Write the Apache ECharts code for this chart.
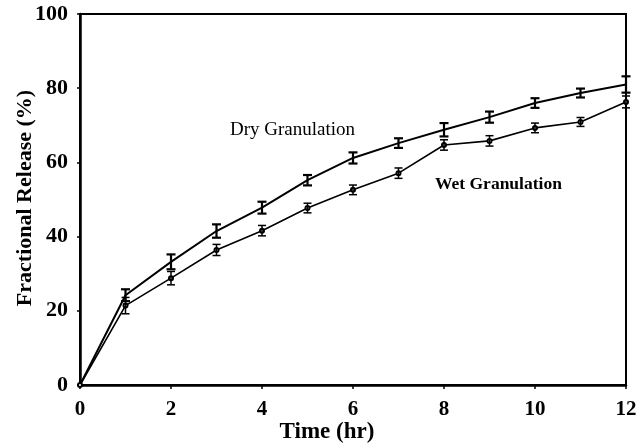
<!DOCTYPE html>
<html>
<head>
<meta charset="utf-8">
<script src="https://cdn.jsdelivr.net/npm/echarts@6/dist/echarts.min.js"></script>
<style>
  html, body { margin: 0; padding: 0; background: #fff; }
  #chart { width: 637px; height: 443px; }
</style>
</head>
<body>
<div id="chart"></div>
<script>
// Release profile: time points (hr)
const timeHr = [0, 1, 2, 3, 4, 5, 6, 7, 8, 9, 10, 11, 12];

// Mean fractional release (%) and error half-widths
const dryRelease = [0, 24.2, 33.2, 41.5, 47.8, 55.2, 61.2, 65.2, 68.8, 72.2, 76.0, 78.7, 81.0];
const dryError   = [0, 1.6, 2.0, 1.8, 1.6, 1.4, 1.5, 1.3, 1.8, 1.5, 1.3, 1.2, 2.2];
const wetRelease = [0, 21.4, 28.8, 36.4, 41.6, 47.7, 52.6, 57.1, 64.7, 65.8, 69.3, 70.9, 76.3];
const wetError   = [0, 2.2, 1.8, 1.5, 1.4, 1.3, 1.3, 1.4, 1.4, 1.4, 1.3, 1.2, 1.6];

const xTicks = [0, 2, 4, 6, 8, 10, 12];
const yTicks = [0, 20, 40, 60, 80, 100];

const seriesName = { dry: 'Dry Granulation', wet: 'Wet Granulation' };
const xTitle = 'Time (hr)';
const yTitle = 'Fractional Release (%)';

const serif = '"Liberation Serif", "Times New Roman", serif';

function pairs(ys) { return timeHr.map((t, i) => [t, ys[i]]); }
function errRows(ys, es) {
  return timeHr.map((t, i) => [t, ys[i] - es[i], ys[i] + es[i]]).filter((r, i) => es[i] > 0);
}

// I-beam error bar drawn in data coordinates
function errorBarRenderer(width, capHalf) {
  return function (params, api) {
    const x = api.value(0);
    const lo = api.coord([x, api.value(1)]);
    const hi = api.coord([x, api.value(2)]);
    const style = { stroke: '#000', lineWidth: width };
    return {
      type: 'group',
      children: [
        { type: 'line', shape: { x1: lo[0], y1: lo[1], x2: hi[0], y2: hi[1] }, style },
        { type: 'line', shape: { x1: lo[0] - capHalf, y1: lo[1], x2: lo[0] + capHalf, y2: lo[1] }, style },
        { type: 'line', shape: { x1: hi[0] - capHalf, y1: hi[1], x2: hi[0] + capHalf, y2: hi[1] }, style }
      ]
    };
  };
}

const chart = echarts.init(document.getElementById('chart'), null, { renderer: 'canvas' });

chart.setOption({
  animation: false,
  backgroundColor: '#fff',
  grid: {
    left: 80, right: 11, top: 14, bottom: 58,
    outerBoundsMode: 'none', containLabel: false,
    show: true, borderColor: '#000', borderWidth: 2, backgroundColor: 'transparent'
  },
  xAxis: {
    type: 'value', min: xTicks[0], max: xTicks[xTicks.length - 1], interval: 2,
    axisLine: { show: true, lineStyle: { color: '#000', width: 2.5 } },
    axisTick: { show: true, length: 4, lineStyle: { color: '#000', width: 1.5 } },
    axisLabel: { fontFamily: serif, fontWeight: 'bold', fontSize: 21, color: '#000', margin: 14 },
    splitLine: { show: false }
  },
  yAxis: {
    type: 'value', min: yTicks[0], max: yTicks[yTicks.length - 1], interval: 20,
    axisLine: { show: true, lineStyle: { color: '#000', width: 2.5 } },
    axisTick: { show: true, length: 3, lineStyle: { color: '#000', width: 1.5 } },
    axisLabel: {
      fontFamily: serif, fontWeight: 'bold', fontSize: 22, color: '#000', margin: 12,
      padding: [8, 0, 0, 0]
    },
    splitLine: { show: false }
  },
  series: [
    {
      name: seriesName.dry, type: 'line', data: pairs(dryRelease),
      symbol: 'none', lineStyle: { color: '#000', width: 2 }, z: 3
    },
    {
      name: seriesName.wet, type: 'line', data: pairs(wetRelease),
      symbol: 'emptyCircle', symbolSize: 4, itemStyle: { color: '#000', borderWidth: 1 },
      lineStyle: { color: '#000', width: 1.6 }, z: 3
    },
    {
      type: 'custom', data: errRows(dryRelease, dryError),
      renderItem: errorBarRenderer(2.2, 4.5), z: 4
    },
    {
      type: 'custom', data: errRows(wetRelease, wetError),
      renderItem: errorBarRenderer(1.5, 4), z: 4
    }
  ],
  graphic: [
    {
      type: 'text', left: 230, top: 121,
      style: { text: seriesName.dry, font: '19px ' + serif, fill: '#000' }
    },
    {
      type: 'text', left: 435, top: 175,
      style: { text: seriesName.wet, font: 'bold 17.5px ' + serif, fill: '#000' }
    },
    {
      type: 'text', x: 327, y: 432,
      style: {
        text: xTitle, font: 'bold 23px ' + serif, fill: '#000',
        align: 'center', verticalAlign: 'middle'
      }
    },
    {
      type: 'text', x: 25, y: 198, rotation: Math.PI / 2,
      style: {
        text: yTitle, font: 'bold 22px ' + serif, fill: '#000',
        align: 'center', verticalAlign: 'middle'
      }
    }
  ]
});
</script>
</body>
</html>
